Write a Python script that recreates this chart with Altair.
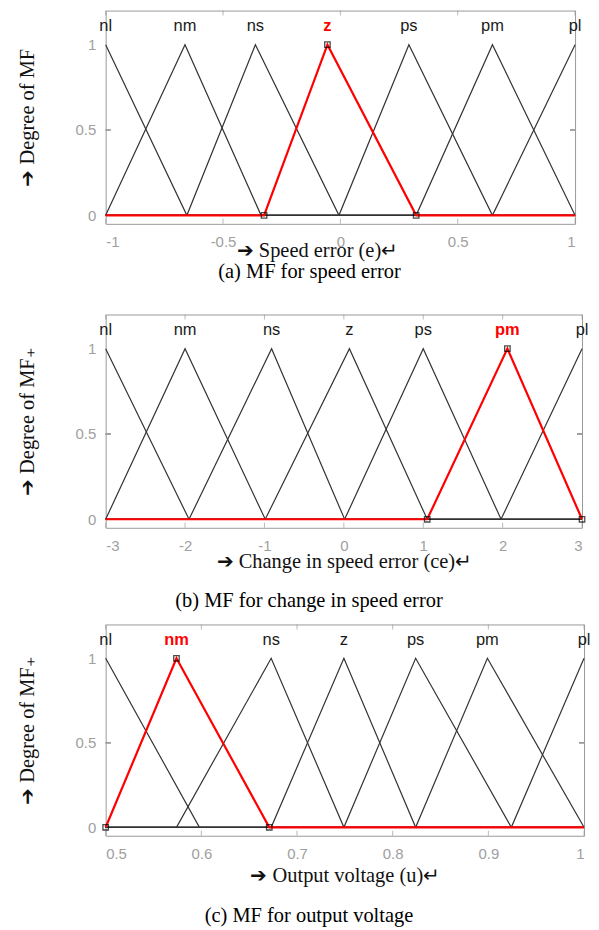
import altair as alt
import pandas as pd

names = ["nl", "nm", "ns", "z", "ps", "pm", "pl"]
y_ticks = [0, 0.5, 1]

# (a) speed error
a_left = [-1.0, -1.0, -0.654, -0.325, -0.006, 0.323, 0.648]
a_peak = [-1.0, -0.662, -0.362, -0.055, 0.292, 0.648, 1.0]
a_right = [-0.654, -0.338, -0.006, 0.323, 0.648, 1.0, 1.0]
a_ticks = [-1, -0.5, 0, 0.5, 1]

# (b) change in speed error
b_left = [-3.0, -3.0, -1.95, -0.99, 0.01, 1.05, 1.98]
b_peak = [-3.0, -2.0, -0.91, 0.07, 1.0, 2.06, 3.0]
b_right = [-1.95, -0.99, 0.01, 1.05, 1.98, 3.0, 3.0]
b_ticks = [-3, -2, -1, 0, 1, 2, 3]

# (c) output voltage
c_left = [0.5, 0.5, 0.574, 0.673, 0.749, 0.824, 0.924]
c_peak = [0.5, 0.574, 0.673, 0.749, 0.824, 0.899, 1.0]
c_right = [0.598, 0.671, 0.749, 0.824, 0.924, 1.0, 1.0]
c_ticks = [0.5, 0.6, 0.7, 0.8, 0.9, 1]

SERIF = "Liberation Serif"
SANS = "Liberation Sans"
LINE = "#333333"
RED = "#ff0000"
FRAME = "#9a9a9a"
ARROW = "\u2794"


def panel(left, peak, right, xmin, xmax, ticks, hi, width, height,
          xtitle, ytitle, caption, title_y, cap_offset, cap_dx, title_x=None):
    rows = []
    for i, n in enumerate(names):
        pts = []
        if left[i] > xmin:
            pts.append((xmin, 0))
        if left[i] < peak[i]:
            pts.append((left[i], 0))
        pts.append((peak[i], 1))
        if right[i] > peak[i]:
            pts.append((right[i], 0))
        if right[i] < xmax:
            pts.append((xmax, 0))
        for k, (x, y) in enumerate(pts):
            rows.append(dict(mf=n, k=k, x=x, y=y, hi=(i == hi)))
    df = pd.DataFrame(rows)
    lab = pd.DataFrame(dict(mf=names, x=peak, y=[1.11] * 7,
                            hi=[i == hi for i in range(7)]))
    sq = pd.DataFrame(dict(x=[left[hi], peak[hi], right[hi]], y=[0, 1, 0]))
    tk = pd.DataFrame(dict(v=ticks))

    xs = alt.Scale(domain=[xmin, xmax], nice=False, zero=False)
    ys = alt.Scale(domain=[-0.05, 1.2], nice=False, zero=False)
    xkw = dict(values=ticks, labelExpr="'' + datum.value", title=xtitle,
               ticks=False, domain=False, grid=False, labelPadding=11,
               titleY=title_y, titleBaseline="middle")
    if title_x is not None:
        xkw["titleX"] = title_x
        xkw["titleAlign"] = "center"
    xax = alt.Axis(**xkw)
    yax = alt.Axis(values=y_ticks, labelExpr="'' + datum.value", title=ytitle,
                   ticks=False, domain=False, grid=False, labelPadding=10,
                   titleX=-78, titleBaseline="middle")

    X = alt.X("x:Q", scale=xs, axis=xax)
    Y = alt.Y("y:Q", scale=ys, axis=yax)

    black = alt.Chart(df).transform_filter("!datum.hi").mark_line(
        color=LINE, strokeWidth=1.2).encode(x=X, y=Y, detail="mf:N", order="k:Q")
    red = alt.Chart(df).transform_filter("datum.hi").mark_line(
        color=RED, strokeWidth=2.2).encode(x=X, y=Y, detail="mf:N", order="k:Q")
    squares = alt.Chart(sq).mark_point(shape="square", size=30, filled=False,
                                       color="black", strokeWidth=1.3).encode(x=X, y=Y)
    txt = alt.Chart(lab).transform_filter("!datum.hi").mark_text(
        font=SANS, fontSize=16.5, baseline="middle", color="#1a1a1a").encode(
        x=X, y=Y, text="mf:N")
    txt_hi = alt.Chart(lab).transform_filter("datum.hi").mark_text(
        font=SANS, fontSize=16.5, fontWeight="bold", baseline="middle", color=RED).encode(
        x=X, y=Y, text="mf:N")
    tb = alt.Chart(tk).mark_tick(orient="vertical", size=5, thickness=1, color=FRAME,
                                 yOffset=-2.5).encode(x=alt.X("v:Q", scale=xs), y=alt.datum(-0.05))
    tt = alt.Chart(tk).mark_tick(orient="vertical", size=5, thickness=1, color=FRAME,
                                 yOffset=2.5).encode(x=alt.X("v:Q", scale=xs), y=alt.datum(1.2))
    yl = alt.Chart(tk).mark_tick(orient="horizontal", size=5, thickness=1, color=FRAME,
                                 xOffset=2.5).encode(x=alt.datum(xmin), y=alt.datum(0.5))
    yr = alt.Chart(tk).mark_tick(orient="horizontal", size=5, thickness=1, color=FRAME,
                                 xOffset=-2.5).encode(x=alt.datum(xmax), y=alt.datum(0.5))

    return alt.layer(tb, tt, yl, yr, black, red, squares, txt, txt_hi).properties(
        width=width, height=height,
        title=alt.Title(caption, orient="bottom", font=SERIF, fontSize=20.5,
                        fontWeight="normal", color="black", offset=cap_offset,
                        dx=cap_dx, anchor="middle"))


pa = panel(a_left, a_peak, a_right, -1, 1, a_ticks, 3, 471, 214,
           ARROW + " Speed error (e)\u21b5", ARROW + " Degree of MF",
           "(a) MF for speed error", 27, 1, -31, title_x=212)
pb = panel(b_left, b_peak, b_right, -3, 3, b_ticks, 5, 478, 214,
           ARROW + " Change in speed error (ce)\u21b5", ARROW + " Degree of MF\u208a",
           "(b) MF for change in speed error", 34, 19, -35)
pc = panel(c_left, c_peak, c_right, 0.5, 1, c_ticks, 1, 480, 212,
           ARROW + " Output voltage (u)\u21b5", ARROW + " Degree of MF\u208a",
           "(c) MF for output voltage", 40, 20, -36)

chart = alt.vconcat(pa, alt.vconcat(pb, pc, spacing=11), spacing=30).properties(
    padding={"left": 9, "top": 0, "right": 0, "bottom": 0}
).configure_view(stroke=FRAME, strokeWidth=1).configure_axis(
    labelFont=SANS, labelFontSize=15, labelColor="#a0a0a0",
    titleFont=SERIF, titleFontSize=20.5, titleFontWeight="normal", titleColor="#111"
)

chart.save("out.html", embed_options={"renderer": "svg", "actions": False})
